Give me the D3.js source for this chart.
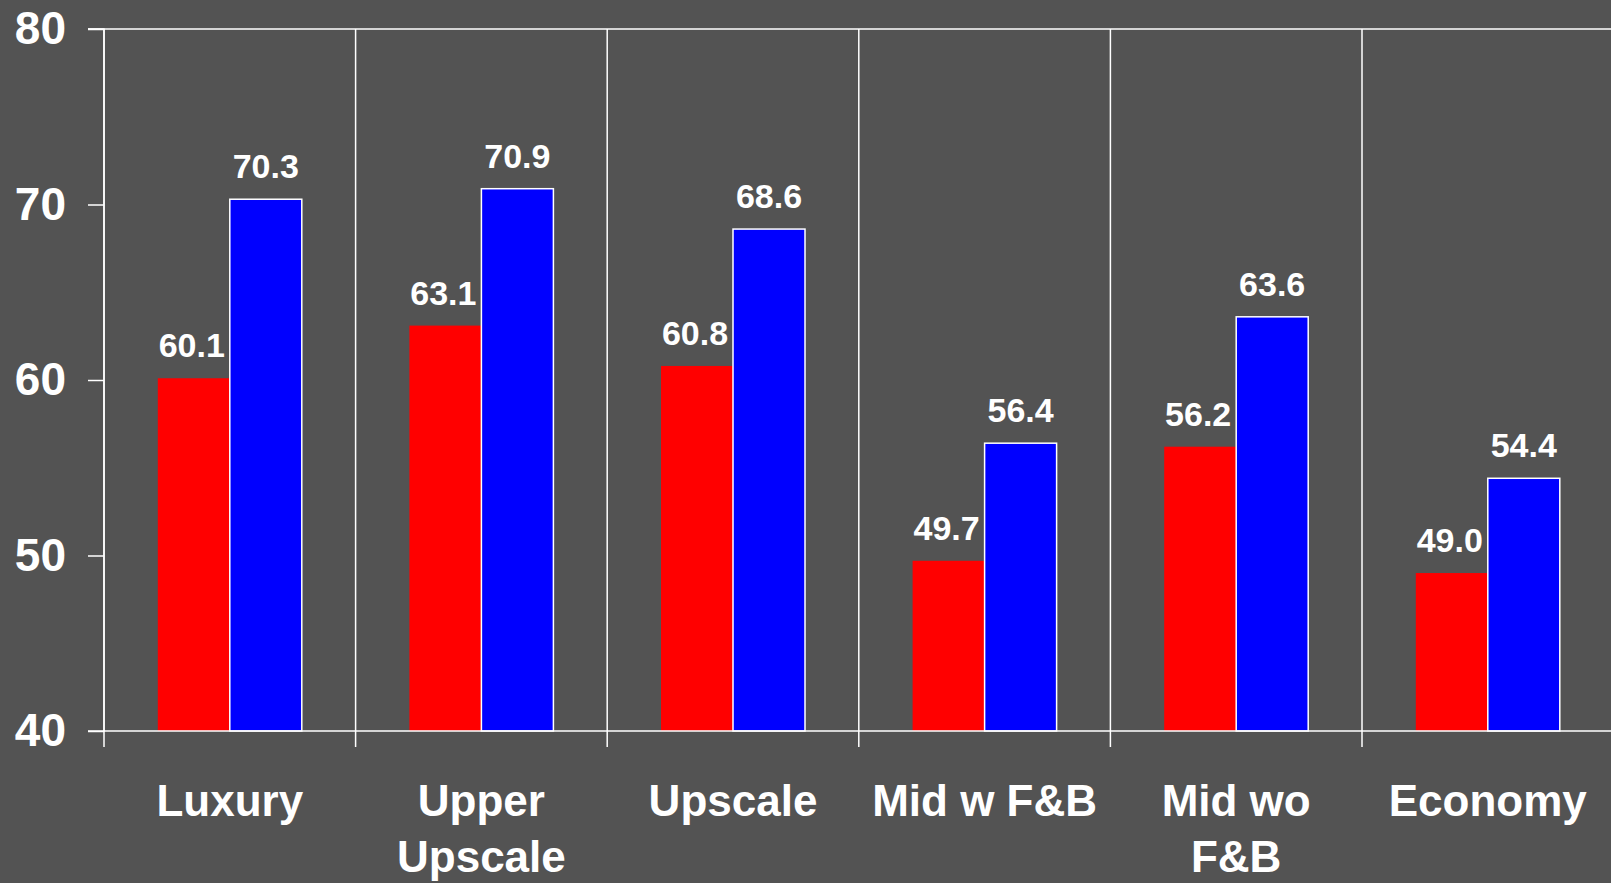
<!DOCTYPE html>
<html>
<head>
<meta charset="utf-8">
<script src="https://cdn.jsdelivr.net/npm/d3@7"></script>
<style>
  html, body { margin: 0; padding: 0; background: #535353; overflow: hidden; }
  svg text { font-family: "Liberation Sans", Arial, sans-serif; font-weight: bold; fill: #fff; }
</style>
</head>
<body>
<div id="chart"></div>
<script>
/**
 * DATA
 **/
const categories = ["Luxury", "Upper Upscale", "Upscale", "Mid w F&B", "Mid wo F&B", "Economy"];
const categoryLines = [["Luxury"], ["Upper", "Upscale"], ["Upscale"], ["Mid w F&B"], ["Mid wo", "F&B"], ["Economy"]];
const redValues = [60.1, 63.1, 60.8, 49.7, 56.2, 49.0];
const blueValues = [70.3, 70.9, 68.6, 56.4, 63.6, 54.4];
const yTicks = [40, 50, 60, 70, 80];

/**
 * CONSTANTS
 **/
const width = 1611, height = 883,
  margin = { top: 29, left: 104, bottom: 152 },
  step = 251.6, barWidth = 72;

const svg = d3.select("#chart")
  .append("svg")
  .attr("width", width)
  .attr("height", height);

// SCALES
const xScale = d3.scaleBand()
  .domain(categories)
  .range([margin.left, margin.left + step * categories.length])
  .paddingInner(0)
  .paddingOuter(0);

const yScale = d3.scaleLinear()
  .domain([40, 80])
  .range([height - margin.bottom, margin.top]);

const y0 = yScale(40);

// category separators (plus little ticks below the axis)
svg.append("g")
  .selectAll("line")
  .data(categories)
  .join("line")
  .attr("x1", d => xScale(d))
  .attr("x2", d => xScale(d))
  .attr("y1", margin.top)
  .attr("y2", y0 + 16)
  .attr("stroke", "#fff")
  .attr("stroke-width", 1.5);

// top border
svg.append("line")
  .attr("x1", margin.left - 16).attr("x2", width)
  .attr("y1", margin.top).attr("y2", margin.top)
  .attr("stroke", "#fff").attr("stroke-width", 1.5);

// BARS
const center = d => xScale(d) + xScale.bandwidth() / 2;

svg.append("g")
  .selectAll("rect")
  .data(categories)
  .join("rect")
  .attr("x", d => center(d) - barWidth)
  .attr("y", (d, i) => yScale(redValues[i]))
  .attr("width", barWidth)
  .attr("height", (d, i) => y0 - yScale(redValues[i]))
  .attr("fill", "#ff0000");

svg.append("g")
  .selectAll("rect")
  .data(categories)
  .join("rect")
  .attr("x", d => center(d))
  .attr("y", (d, i) => yScale(blueValues[i]))
  .attr("width", barWidth)
  .attr("height", (d, i) => y0 - yScale(blueValues[i]))
  .attr("fill", "#0000ff")
  .attr("stroke", "#fff")
  .attr("stroke-width", 1.5);

// value labels
svg.append("g")
  .selectAll("text")
  .data(categories)
  .join("text")
  .attr("x", d => center(d) - barWidth / 2 - 2)
  .attr("y", (d, i) => yScale(redValues[i]) - 21)
  .attr("text-anchor", "middle")
  .attr("font-size", 34)
  .text((d, i) => redValues[i].toFixed(1));

svg.append("g")
  .selectAll("text")
  .data(categories)
  .join("text")
  .attr("x", d => center(d) + barWidth / 2)
  .attr("y", (d, i) => yScale(blueValues[i]) - 21)
  .attr("text-anchor", "middle")
  .attr("font-size", 34)
  .text((d, i) => blueValues[i].toFixed(1));

// AXES
const yAxis = d3.axisLeft(yScale)
  .tickValues(yTicks)
  .tickSize(16)
  .tickPadding(22)
  .tickFormat(d3.format("d"));

const gy = svg.append("g")
  .attr("class", "axis y-axis")
  .attr("transform", `translate(${margin.left},0)`)
  .call(yAxis);
gy.selectAll("path, line").attr("stroke", "#fff").attr("stroke-width", 1.5);
gy.select(".domain").attr("d", `M-16,${margin.top}H0V${y0}H-16`);
gy.selectAll("text")
  .attr("font-size", 46)
  .attr("font-family", "'Liberation Sans', Arial, sans-serif")
  .attr("font-weight", "bold")
  .attr("fill", "#fff");

// x axis baseline
svg.append("line")
  .attr("x1", margin.left).attr("x2", width)
  .attr("y1", y0).attr("y2", y0)
  .attr("stroke", "#fff").attr("stroke-width", 1.5);

// category labels
const labels = svg.append("g")
  .selectAll("text")
  .data(categories)
  .join("text")
  .attr("text-anchor", "middle")
  .attr("font-size", 44)
  .attr("x", d => center(d))
  .attr("y", 816);

labels.selectAll("tspan")
  .data((d, i) => categoryLines[i])
  .join("tspan")
  .attr("x", function () { return d3.select(this.parentNode).attr("x"); })
  .attr("dy", (d, i) => i === 0 ? 0 : 56)
  .text(d => d);
</script>
</body>
</html>
